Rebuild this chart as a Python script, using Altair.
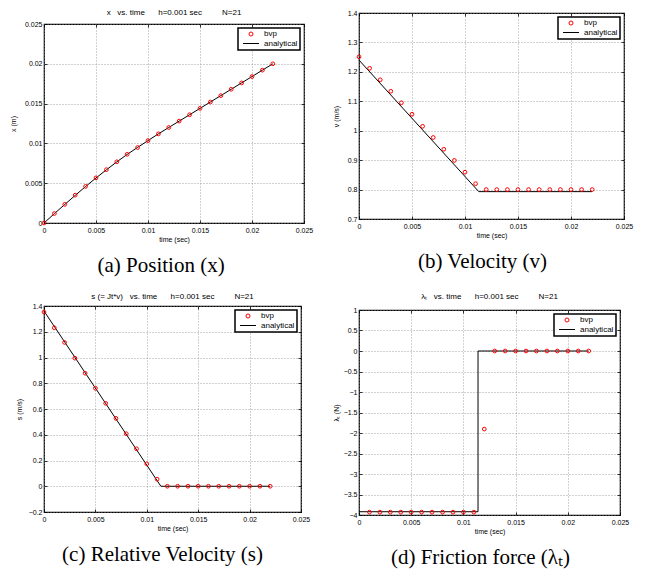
import altair as alt
import pandas as pd

FONT = "Liberation Sans"
SERIF = "Liberation Serif"
NB = "\u00a0"

# ---------------- data ----------------
t_full = [0.000, 0.001, 0.002, 0.003, 0.004, 0.005, 0.006, 0.007, 0.008, 0.009, 0.010, 0.011,
          0.012, 0.013, 0.014, 0.015, 0.016, 0.017, 0.018, 0.019, 0.020, 0.021, 0.022]
t_lam = [0.001, 0.002, 0.003, 0.004, 0.005, 0.006, 0.007, 0.008, 0.009, 0.010, 0.011,
         0.012, 0.013, 0.014, 0.015, 0.016, 0.017, 0.018, 0.019, 0.020, 0.021, 0.022]

# (a) position x
x_bvp = [0.0, 0.00119, 0.00234, 0.0035, 0.0046, 0.00567, 0.0067, 0.00769, 0.00863, 0.00948,
         0.01035, 0.0112, 0.0120, 0.0128, 0.0136, 0.0144, 0.0152, 0.0160, 0.0168, 0.0176,
         0.0184, 0.0192, 0.0200]
x_an_t = t_full
x_an = [0.0, 0.00118, 0.00233, 0.00347, 0.00458, 0.00566, 0.00668, 0.00768, 0.00862, 0.00950,
        0.01035, 0.0112, 0.0120, 0.0128, 0.0136, 0.0144, 0.0152, 0.0160, 0.0168, 0.0176,
        0.0184, 0.0192, 0.0200]

# (b) velocity v
v_bvp = [1.251, 1.212, 1.173, 1.134, 1.095, 1.056, 1.015, 0.977, 0.937, 0.899, 0.859, 0.820,
         0.800, 0.800, 0.800, 0.800, 0.800, 0.800, 0.800, 0.800, 0.800, 0.800, 0.800]
v_an_t = [0.0, 0.0113, 0.022]
v_an = [1.240, 0.793, 0.793]

# (c) relative velocity s
s_bvp = [1.353, 1.231, 1.117, 0.995, 0.878, 0.761, 0.644, 0.527, 0.408, 0.291, 0.174, 0.055,
         0.0, 0.0, 0.0, 0.0, 0.0, 0.0, 0.0, 0.0, 0.0, 0.0, 0.0]
s_an_t = [0.0, 0.01137, 0.022]
s_an = [1.361, 0.0, 0.0]

# (d) friction force lambda_t
l_bvp = [-3.93, -3.93, -3.93, -3.93, -3.93, -3.93, -3.93, -3.93, -3.93, -3.93, -3.93,
         -1.904, 0.0, 0.0, 0.0, 0.0, 0.0, 0.0, 0.0, 0.0, 0.0, 0.0]
l_an_t = [0.0, 0.0114, 0.0114, 0.022]
l_an = [-3.92, -3.92, 0.0, 0.0]

x_ticks = [0, 0.005, 0.01, 0.015, 0.02, 0.025]
ya_ticks = [0, 0.005, 0.01, 0.015, 0.02, 0.025]
yb_ticks = [0.7, 0.8, 0.9, 1.0, 1.1, 1.2, 1.3, 1.4]
yc_ticks = [-0.2, 0, 0.2, 0.4, 0.6, 0.8, 1.0, 1.2, 1.4]
yd_ticks = [-4, -3.5, -3, -2.5, -2, -1.5, -1, -0.5, 0, 0.5, 1]

series = ["bvp", "analytical"]
colors = ["#ff0000", "#000000"]
shapes = ["circle", "M-4,0L4,0"]

sp = NB * 3
title_a = "x" + sp + "vs. time" + sp * 2 + "h=0.001 sec" + sp * 3 + "N=21"
title_c = "s (= Jt*v)" + sp + "vs. time" + sp * 2 + "h=0.001 sec" + sp * 3 + "N=21"
title_d = "λₜ" + sp + "vs. time" + sp * 2 + "h=0.001 sec" + sp * 3 + "N=21"


def top_text(text, dy, w):
    return alt.Chart(alt.Data(values=[{"k": 1}])).mark_text(
        text=text, font=FONT, fontSize=8, color="black", baseline="middle"
    ).encode(x=alt.value(w / 2), y=alt.value(dy))


def tick_axis(values, orient):
    # inward MATLAB-style ticks: an axis pulled 3px inside the frame, ticks only
    return alt.Axis(values=values, orient=orient, offset=-3, labels=False, grid=False,
                    domain=False, ticks=True, tickSize=3, tickColor="black", tickWidth=0.8,
                    title=None, tickCount=len(values))


def panel(tb, yb, ta, ya, ytitle, ydom, yticks, caption, w, h, ytpad, top=None, top_dy=0):
    dfb = pd.DataFrame({"t": tb, "y": yb, "series": "bvp"})
    dfa = pd.DataFrame({"t": ta, "y": ya, "i": list(range(len(ta)))})
    xsc = alt.Scale(domain=[0, 0.025], nice=False)
    ysc = alt.Scale(domain=ydom, nice=False, zero=False)
    xenc = alt.X("t:Q", scale=xsc,
                 axis=alt.Axis(values=x_ticks, format="~g", title="time (sec)",
                               labelOverlap=False, tickCount=len(x_ticks)))
    yenc = alt.Y("y:Q", scale=ysc,
                 axis=alt.Axis(values=yticks, format="~g", title=ytitle, titlePadding=ytpad,
                               labelOverlap=False, tickCount=len(yticks)))
    line = alt.Chart(dfa).mark_line(color="black", strokeWidth=1).encode(
        x=xenc, y=yenc, order="i:Q")
    pts = alt.Chart(dfb).mark_point(filled=False, size=14, strokeWidth=1, opacity=1).encode(
        x=alt.X("t:Q", scale=xsc, axis=tick_axis(x_ticks, "bottom")),
        y=alt.Y("y:Q", scale=ysc, axis=tick_axis(yticks, "left")),
        color=alt.Color("series:N", scale=alt.Scale(domain=series, range=colors),
                        legend=alt.Legend(title=None)),
        shape=alt.Shape("series:N", scale=alt.Scale(domain=series, range=shapes),
                        legend=alt.Legend(title=None)),
    )
    ghost = alt.Chart(dfa).mark_line(strokeOpacity=0).encode(
        x=alt.X("t:Q", scale=xsc, axis=tick_axis(x_ticks, "top")),
        y=alt.Y("y:Q", scale=ysc, axis=tick_axis(yticks, "right")),
        order="i:Q")
    layers = [line, pts, ghost]
    if top:
        layers.append(top_text(top, top_dy, w))
    return alt.layer(*layers).resolve_axis(x="independent", y="independent").properties(
        width=w, height=h,
        title=alt.TitleParams(text=caption, orient="bottom", frame="bounds", anchor="middle",
                              font=SERIF, fontSize=21, fontWeight="normal", color="black",
                              offset=13),
    )


WA, HA = 260, 199
pa_head = top_text(title_a, 0, WA).properties(
    width=WA, height=5, view=alt.ViewBackground(stroke="transparent"))
pa = panel(t_full, x_bvp, x_an_t, x_an, "x (m)", [0, 0.025], ya_ticks,
           "(a) Position (x)", WA, HA, 8)
pb = panel(t_full, v_bvp, v_an_t, v_an, "v (m/s)", [0.7, 1.4], yb_ticks,
           "(b) Velocity (v)", 265, 206, 8)
pc = panel(t_full, s_bvp, s_an_t, s_an, "s (m/s)", [-0.2, 1.4], yc_ticks,
           "(c) Relative Velocity (s)", 257, 206, 6, top=title_c, top_dy=-9)
pd_ = panel(t_lam, l_bvp, l_an_t, l_an, "λₜ (N)", [-4, 1], yd_ticks,
            "(d) Friction force (λₜ)", 261, 205, 4, top=title_d, top_dy=-13)

RES = dict(color="independent", shape="independent")
head_a = alt.vconcat(pa_head, pa, spacing=0).resolve_scale(**RES)
col1 = alt.vconcat(head_a, pc, spacing=15).resolve_scale(**RES)
col2 = alt.vconcat(pb, pd_, spacing=19).resolve_scale(**RES)

chart = alt.hconcat(col1, col2, spacing=17).resolve_scale(**RES).properties(
    padding=0
).configure_view(
    stroke="black", strokeWidth=1.2
).configure_axis(
    labelFont=FONT, labelFontSize=7, labelColor="black",
    titleFont=FONT, titleFontSize=7, titleFontWeight="normal", titleColor="black",
    grid=True, gridColor="#8a8a8a", gridDash=[1, 2], gridWidth=0.8,
    domain=False, ticks=False, labelPadding=3, labelFlush=False, labelOverlap=False,
).configure_axisX(
    titlePadding=2
).configure_axisY(
    labelPadding=2
).configure_legend(
    orient="top-right", offset=4, strokeColor="black", strokeWidth=1.5, fillColor="white",
    padding=2, rowPadding=1.5, labelFont=FONT, labelFontSize=8, labelColor="black",
    symbolSize=16, symbolStrokeWidth=1, symbolOffset=7, labelOffset=9,
).configure_title(font=SERIF)

chart.save("out.html", embed_options={"renderer": "svg", "actions": False})
